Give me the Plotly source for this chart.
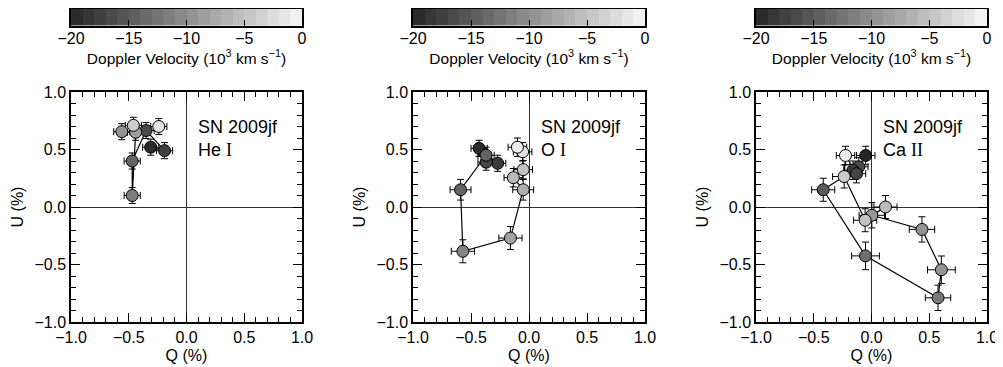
import plotly.graph_objects as go

# ---------------- data ----------------
# He I
he_q = [-0.31, -0.19, -0.35, -0.47, -0.47, -0.44, -0.56, -0.46, -0.24]
he_u = [0.52, 0.49, 0.665, 0.40, 0.10, 0.65, 0.655, 0.71, 0.70]
he_v = [-19.5, -17.5, -16.5, -14.0, -11.5, -8.5, -9.5, -4.0, -2.0]
he_err = [0.07, 0.07, 0.07, 0.07, 0.07, 0.07, 0.07, 0.07, 0.07]
he_path = [0, 1, 2, 3, 4, 5]

# O I
oi_q = [-0.43, -0.27, -0.37, -0.37, -0.59, -0.57, -0.16, -0.05, -0.135, -0.05, -0.055, -0.10]
oi_u = [0.51, 0.38, 0.39, 0.45, 0.15, -0.385, -0.27, 0.15, 0.255, 0.325, 0.48, 0.52]
oi_v = [-19.5, -18.0, -17.0, -14.0, -14.0, -11.0, -8.0, -7.0, -6.0, -5.0, -2.0, -1.0]
oi_err = [0.07, 0.07, 0.07, 0.07, 0.09, 0.1, 0.1, 0.09, 0.08, 0.08, 0.08, 0.08]
oi_path = [0, 1, 2, 3, 4, 5, 6, 7, 8, 9, 10, 11]

# Ca II
ca_q = [-0.05, -0.11, -0.16, -0.13, -0.225, -0.237, -0.418, -0.052, 0.576, 0.605, 0.437, 0.003, 0.121, -0.055]
ca_u = [0.448, 0.35, 0.32, 0.29, 0.448, 0.265, 0.15, -0.425, -0.79, -0.546, -0.195, -0.072, 0.0, -0.115]
ca_v = [-20.0, -16.5, -18.0, -17.0, -1.0, -4.0, -15.0, -13.0, -12.0, -9.5, -9.5, -9.0, -5.5, -5.0]
ca_err = [0.08, 0.08, 0.08, 0.08, 0.08, 0.1, 0.1, 0.12, 0.11, 0.12, 0.11, 0.11, 0.1, 0.1]
ca_path = [0, 1, 2, 3, 4, 5, 6, 7, 8, 9, 10, 11, 12, 13, 5]

labels = ["He <span style='font-family:Liberation Serif'>I</span>",
          "O <span style='font-family:Liberation Serif'>I</span>",
          "Ca <span style='font-family:Liberation Serif'>II</span>"]

cb_centers = [-19.5, -18.5, -17.5, -16.5, -15.5, -14.5, -13.5, -12.5, -11.5, -10.5,
              -9.5, -8.5, -7.5, -6.5, -5.5, -4.5, -3.5, -2.5, -1.5, -0.5]
cb_ticks = [-20, -15, -10, -5, 0]
cb_ticktext = ["\u221220", "\u221215", "\u221210", "\u22125", "0"]
axis_ticks = [-1.0, -0.5, 0.0, 0.5, 1.0]
axis_ticktext = ["\u22121.0", "\u22120.5", "0.0", "0.5", "1.0"]

CS = [[0, "#262626"], [1, "#f6f6f6"]]
FONT = "Liberation Sans, Arial, sans-serif"

panels = [(he_q, he_u, he_v, he_err, he_path),
          (oi_q, oi_u, oi_v, oi_err, oi_path),
          (ca_q, ca_u, ca_v, ca_err, ca_path)]

OFF = 8  # default page body margin
W, H = 1003 - OFF, 367 - OFF
xpix = [(71 - OFF, 302 - OFF), (413 - OFF, 645 - OFF), (756 - OFF, 987 - OFF)]
plot_y = (1 - (322 - OFF) / H, 1 - (92 - OFF) / H)
cb_y = (1 - (25.5 - OFF) / H, 1 - (9 - OFF) / H)

fig = go.Figure()
layout = dict(width=W, height=H, margin=dict(l=0, r=0, t=0, b=0, autoexpand=False),
              paper_bgcolor="white", plot_bgcolor="white", showlegend=False,
              font=dict(family=FONT, color="black", size=16))
annotations = []

for i, (q, u, v, err, path) in enumerate(panels):
    n = i + 1
    xa = "x" if n == 1 else f"x{n}"
    ya = "y" if n == 1 else f"y{n}"
    dom = [xpix[i][0] / W, xpix[i][1] / W]
    # connecting line
    fig.add_trace(go.Scatter(x=[q[k] for k in path], y=[u[k] for k in path], mode="lines",
                             line=dict(color="black", width=1.2), xaxis=xa, yaxis=ya,
                             hoverinfo="skip"))
    fig.add_trace(go.Scatter(x=q, y=u, mode="markers", xaxis=xa, yaxis=ya,
                             error_x=dict(type="data", array=err, color="black", thickness=1, width=3.5),
                             error_y=dict(type="data", array=err, color="black", thickness=1, width=3.5),
                             marker=dict(size=12, color=v, colorscale=CS, cmin=-20, cmax=0,
                                         line=dict(color="black", width=1))))
    axcommon = dict(range=[-1, 1], tickvals=axis_ticks, ticktext=axis_ticktext,
                    ticks="inside", ticklen=9, tickcolor="black", tickwidth=1,
                    minor=dict(dtick=0.1, ticks="inside", ticklen=5, tickcolor="black", tickwidth=1),
                    showline=True, linecolor="black", linewidth=1.5, mirror="allticks",
                    showgrid=False, zeroline=True, zerolinecolor="#333333", zerolinewidth=1,
                    automargin=False,
                    tickfont=dict(size=16, family=FONT, color="black"))
    layout[("xaxis" if n == 1 else f"xaxis{n}")] = dict(axcommon, domain=dom, anchor=ya,
                                                         title=dict(text="Q (%)", font=dict(size=16), standoff=5))
    layout[("yaxis" if n == 1 else f"yaxis{n}")] = dict(axcommon, domain=list(plot_y), anchor=xa,
                                                         title=dict(text="U (%)", font=dict(size=16), standoff=7))
    annotations.append(dict(x=0.10, y=0.70, xref=xa, yref=ya, text="SN 2009jf", showarrow=False,
                            xanchor="left", yanchor="middle", xshift=-2, font=dict(size=18, family=FONT)))
    annotations.append(dict(x=0.10, y=0.50, xref=xa, yref=ya, text=labels[i], showarrow=False,
                            xanchor="left", yanchor="middle", xshift=-2, font=dict(size=18, family=FONT)))

    # colorbar strip
    m = n + 3
    cxa, cya = f"x{m}", f"y{m}"
    fig.add_trace(go.Heatmap(z=[cb_centers], x=cb_centers, y=[0.5], colorscale=CS, zmin=-20, zmax=0,
                             showscale=False, xaxis=cxa, yaxis=cya, hoverinfo="skip"))
    layout[f"xaxis{m}"] = dict(domain=dom, anchor=cya, range=[-20, 0], tickvals=cb_ticks,
                               ticktext=cb_ticktext, ticklabelstandoff=-2,
                               ticks="inside", ticklen=6, tickcolor="black", showline=True,
                               linecolor="black", linewidth=1.5, mirror=True, showgrid=False,
                               zeroline=False, tickfont=dict(size=16, family=FONT), automargin=False,
                               title=dict(text="Doppler Velocity (10<sup>3</sup> km s<sup>\u22121</sup>)",
                                          font=dict(size=15.5), standoff=2))
    layout[f"yaxis{m}"] = dict(domain=list(cb_y), anchor=cxa, range=[0, 1], showticklabels=False,
                               ticks="", showline=True, linecolor="black", linewidth=1.5, mirror=True,
                               showgrid=False, zeroline=False, automargin=False)

layout["annotations"] = annotations
fig.update_layout(**layout)
fig.write_html("out.html")
